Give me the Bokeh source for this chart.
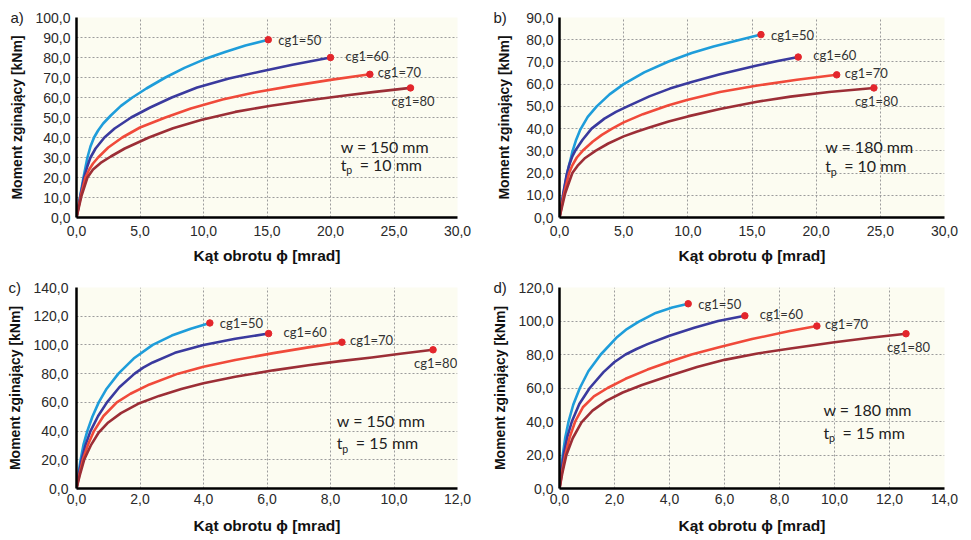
from bokeh.plotting import figure
from bokeh.layouts import gridplot
from bokeh.models import FixedTicker, CustomJSTickFormatter, Label, Range1d
from bokeh.embed import file_html
from bokeh.resources import INLINE
from bokeh.core.properties import value

# ---------------- data ----------------
SERIES = ["cg1=50", "cg1=60", "cg1=70", "cg1=80"]
PANEL_TAGS = ["a)", "b)", "c)", "d)"]
W_TEXT = ["w = 150 mm", "w = 180 mm", "w = 150 mm", "w = 180 mm"]
TP_TEXT = ["= 10 mm", "= 10 mm", "= 15 mm", "= 15 mm"]
X_LABEL = "Kąt obrotu ϕ [mrad]"
Y_LABEL = "Moment zginający [kNm]"

# panel a) w = 150 mm, tp = 10 mm
a_phi_50 = [0, 0.3, 0.55, 0.86, 1.1, 1.38, 1.7, 2.1, 2.7, 3.5, 4.4, 5.5, 7.0, 8.5, 10.1, 11.7, 13.3, 15.1]
a_m_50 = [0, 11, 20, 30, 35.5, 40, 43.5, 47, 51, 55.8, 60, 64.5, 70, 74.8, 79.2, 82.7, 86, 88.9]
a_phi_60 = [0, 0.3, 0.6, 0.85, 1.1, 1.5, 2.2, 3.0, 4.3, 5.8, 7.5, 9.5, 12, 14.5, 17, 20]
a_m_60 = [0, 10.5, 20, 25.5, 30, 34.5, 40, 44.5, 50, 55, 60, 65, 69.5, 73, 76.4, 80]
a_phi_70 = [0, 0.35, 0.7, 1.0, 1.3, 1.7, 2.5, 3.6, 5.0, 7.0, 9.0, 11.5, 14, 17, 20, 23.1]
a_m_70 = [0, 11, 20, 24, 27, 30, 35, 40, 45, 50, 54.5, 59, 62.5, 65.8, 68.8, 71.6]
a_phi_80 = [0, 0.4, 0.86, 1.3, 1.9, 2.7, 3.8, 5.7, 7.6, 9.8, 12.5, 15.3, 18, 21, 23.5, 26.3]
a_m_80 = [0, 11, 20, 24, 27.3, 30.5, 34.5, 40, 44.6, 48.8, 52.8, 55.9, 58.4, 60.9, 62.8, 64.8]
a_xticks = [0, 5, 10, 15, 20, 25, 30]
a_yticks = [0, 10, 20, 30, 40, 50, 60, 70, 80, 90, 100]

# panel b) w = 180 mm, tp = 10 mm
b_phi_50 = [0, 0.3, 0.6, 1.0, 1.3, 1.6, 2.2, 2.9, 3.9, 5.0, 6.6, 8.5, 10.3, 12, 14, 15.7]
b_m_50 = [0, 10.5, 20, 29.5, 35, 39.3, 45.3, 50, 55.4, 60, 65.3, 70.2, 74, 77, 79.9, 82.3]
b_phi_60 = [0, 0.3, 0.55, 0.75, 1.0, 1.25, 1.8, 2.5, 3.5, 4.4, 5.3, 7.0, 8.6, 10.3, 12.5, 15.3, 17, 18.6]
b_m_60 = [0, 11, 19, 23.5, 27.5, 30.3, 35, 40, 44.5, 47.5, 50, 54.5, 58, 61, 64.5, 68.3, 70.4, 72.2]
b_phi_70 = [0, 0.35, 0.75, 1.0, 1.35, 1.8, 2.6, 3.3, 4.1, 5.0, 6.5, 8.5, 10, 12.5, 15.3, 18.5, 21.6]
b_m_70 = [0, 10.5, 20, 23.5, 27, 30, 34.2, 37.2, 40, 42.8, 46.5, 50.5, 53, 56.5, 59.3, 62, 64.2]
b_phi_80 = [0, 0.45, 1.0, 1.4, 2.0, 2.8, 3.8, 5.0, 6.0, 7.0, 8.5, 10, 12.5, 15.3, 18, 21, 24.5]
b_m_80 = [0, 11, 20, 23.2, 26.8, 30, 33.3, 36.5, 38.6, 40.5, 43.2, 45.5, 48.8, 52, 54.4, 56.5, 58.3]
b_xticks = [0, 5, 10, 15, 20, 25, 30]
b_yticks = [0, 10, 20, 30, 40, 50, 60, 70, 80, 90]

# panel c) w = 150 mm, tp = 15 mm
c_phi_50 = [0, 0.06, 0.13, 0.22, 0.34, 0.5, 0.7, 0.95, 1.32, 1.8, 2.4, 3.0, 3.6, 4.2]
c_m_50 = [0, 10, 20, 30.5, 40, 50, 60, 69.5, 80, 90.5, 100, 106.5, 111.3, 115.3]
c_phi_60 = [0, 0.07, 0.16, 0.28, 0.44, 0.68, 0.96, 1.35, 1.83, 2.1, 2.4, 3.1, 4.0, 5.0, 6.05]
c_m_60 = [0, 9, 20, 30, 40, 50.5, 60, 70.5, 80, 84.2, 87.8, 94.5, 100, 104.3, 107.9]
c_phi_70 = [0, 0.08, 0.2, 0.36, 0.55, 0.85, 1.27, 1.7, 2.3, 3.2, 4.0, 5.0, 6.2, 7.3, 8.36]
c_m_70 = [0, 8.5, 20, 30.5, 40, 50.5, 60, 66, 72.5, 80, 84.8, 89.5, 94.3, 98.3, 101.9]
c_phi_80 = [0, 0.1, 0.24, 0.45, 0.7, 1.0, 1.4, 1.94, 2.6, 3.3, 4.0, 5.0, 6.2, 7.3, 8.3, 9.3, 10.2, 11.23]
c_m_80 = [0, 9, 20, 30, 39, 46, 52.5, 59, 64.5, 69.3, 73.3, 77.8, 82.3, 85.8, 88.7, 91.3, 93.8, 96.6]
c_xticks = [0, 2, 4, 6, 8, 10, 12]
c_yticks = [0, 20, 40, 60, 80, 100, 120, 140]

# panel d) w = 180 mm, tp = 15 mm
d_phi_50 = [0, 0.05, 0.12, 0.21, 0.33, 0.5, 0.74, 1.05, 1.5, 2.1, 2.45, 2.87, 3.5, 4.1, 4.68]
d_m_50 = [0, 9, 20, 30.5, 40, 50, 60, 70, 80, 90.5, 95.2, 99.5, 104.8, 108, 110.3]
d_phi_60 = [0, 0.06, 0.15, 0.28, 0.45, 0.72, 1.1, 1.6, 2.0, 2.4, 2.8, 3.2, 4.0, 4.9, 5.77, 6.74]
d_m_60 = [0, 8.5, 20, 30.5, 40, 50.5, 60, 69.5, 75.5, 80, 83.3, 86.2, 91.2, 96, 100, 103.1]
d_phi_70 = [0, 0.08, 0.21, 0.37, 0.57, 0.85, 1.25, 1.75, 2.4, 3.2, 4.0, 4.8, 5.8, 7.0, 8.37, 9.36]
d_m_70 = [0, 8.5, 20, 30.5, 40, 48.5, 55, 60, 65.5, 71, 75.7, 80, 84.3, 89.2, 94, 97]
d_phi_80 = [0, 0.1, 0.25, 0.48, 0.8, 1.2, 1.7, 2.3, 3.0, 4.0, 5.0, 6.0, 7.2, 8.4, 10, 11.3, 12.6]
d_m_80 = [0, 9, 20, 30, 39.5, 46.5, 52.3, 57.3, 61.8, 67.3, 72.5, 76.8, 80.6, 83.6, 87.3, 90, 92.4]
d_xticks = [0, 2, 4, 6, 8, 10, 12, 14]
d_yticks = [0, 20, 40, 60, 80, 100, 120]

# annotation anchor points (data coordinates): x, y of "w = ...", y of "tp = ..."
a_note = [20.8, 35.6, 26.7]
b_note = [20.7, 32.1, 23.2]
c_note = [8.2, 47.1, 31.9]
d_note = [9.6, 47.3, 33.7]

# ---------------- styles ----------------
COLORS = ["#1E9DDA", "#3A3A9E", "#F04A3A", "#9C2E36"]
DOT = "#E3262C"
BG = "#FCFCF1"
GRID = "#9C9C9C"
TICK_FONT = "Liberation Sans"
NOTE_FONT = "Lato"
LBL_DX = [10, 15, 8, -19]
LBL_DY = [0, -2, -2, 13]

GEOM = {
    "a": dict(width=485, height=270, left=74, right=28, top=15, bottom=53, ystand=6, xstand=8, xlstand=8, ylstand=7),
    "b": dict(width=486, height=270, left=74, right=27, top=15, bottom=53, ystand=6, xstand=8, xlstand=8, ylstand=11),
    "c": dict(width=485, height=270, left=76, right=21, top=16, bottom=52, ystand=8, xstand=5, xlstand=10, ylstand=7),
    "d": dict(width=486, height=270, left=74, right=17, top=16, bottom=51, ystand=6, xstand=5, xlstand=10, ylstand=7),
}

fmt_code = "return tick.toFixed(1).replace('.', ',');"


def make_panel(key, tag, curves, xticks, yticks, note, w_text, tp_text):
    g = GEOM[key]
    x0, x1, y0, y1 = xticks[0], xticks[-1], yticks[0], yticks[-1]
    p = figure(width=g["width"], height=g["height"], output_backend="svg",
               toolbar_location=None, tools="",
               x_range=Range1d(x0, x1), y_range=Range1d(y0, y1),
               min_border_left=g["left"], min_border_right=g["right"],
               min_border_top=g["top"], min_border_bottom=g["bottom"])
    p.background_fill_color = BG
    p.border_fill_color = "white"
    p.outline_line_color = None

    for ax, ticks, stand, lstand, lab in ((p.xaxis[0], xticks, g["xstand"], g["xlstand"], X_LABEL),
                                          (p.yaxis[0], yticks, g["ystand"], g["ylstand"], Y_LABEL)):
        ax.ticker = FixedTicker(ticks=ticks)
        ax.formatter = CustomJSTickFormatter(code=fmt_code)
        ax.major_tick_line_color = None
        ax.minor_tick_line_color = None
        ax.major_tick_out = 0
        ax.major_tick_in = 0
        ax.minor_tick_out = 0
        ax.minor_tick_in = 0
        ax.axis_line_color = "black"
        ax.axis_line_width = 2.5
        ax.major_label_text_font = TICK_FONT
        ax.major_label_text_font_size = "14px"
        ax.major_label_text_color = "#2a2a2a"
        ax.major_label_standoff = stand
        ax.axis_label = lab
        ax.axis_label_text_font = TICK_FONT
        ax.axis_label_text_font_style = "bold"
        ax.axis_label_text_color = "#111111"
        ax.axis_label_standoff = lstand
    p.xaxis.axis_label_text_font_size = "15.5px"
    p.yaxis.axis_label_text_font_size = "14px"

    for grid, ticks in ((p.xgrid[0], xticks), (p.ygrid[0], yticks)):
        grid.ticker = FixedTicker(ticks=ticks)
        grid.grid_line_color = GRID
        grid.grid_line_dash = "2 2"
        grid.grid_line_width = 1

    for i, (xs, ys) in enumerate(curves):
        p.line(xs, ys, line_color=COLORS[i], line_width=2.6, line_join="round")
        p.scatter([xs[-1]], [ys[-1]], size=6.5, fill_color=DOT, line_color=DOT)
        p.text([xs[-1]], [ys[-1]], text=[SERIES[i]], x_offset=LBL_DX[i], y_offset=LBL_DY[i],
               text_font=value(NOTE_FONT), text_font_size="13px", text_color="#333333",
               text_baseline="middle", text_align="left")

    fs = "16px"
    p.text([note[0]], [note[1]], text=[w_text], text_font=value(NOTE_FONT), text_font_size=fs,
           text_color="#222222", text_baseline="middle", text_align="left")
    p.text([note[0]], [note[2]], text=["t"], text_font=value(NOTE_FONT), text_font_size=fs,
           text_color="#222222", text_baseline="middle", text_align="left")
    p.text([note[0]], [note[2]], text=["p"], x_offset=5.5, y_offset=6, text_font=value(NOTE_FONT),
           text_font_size="10.5px", text_color="#222222", text_baseline="middle", text_align="left")
    p.text([note[0]], [note[2]], text=[tp_text], x_offset=19, text_font=value(NOTE_FONT),
           text_font_size=fs, text_color="#222222", text_baseline="middle", text_align="left")

    # panel tag in the top side panel, left of the frame's top-left corner
    p.add_layout(Label(x=-(g["left"] - 8), y=0, x_units="screen", y_units="screen", text=tag,
                       text_font=TICK_FONT, text_font_size="15px", text_color="#222222",
                       text_baseline="middle", text_align="left"), "above")
    return p


pa = make_panel("a", PANEL_TAGS[0],
                [(a_phi_50, a_m_50), (a_phi_60, a_m_60), (a_phi_70, a_m_70), (a_phi_80, a_m_80)],
                a_xticks, a_yticks, a_note, W_TEXT[0], TP_TEXT[0])
pb = make_panel("b", PANEL_TAGS[1],
                [(b_phi_50, b_m_50), (b_phi_60, b_m_60), (b_phi_70, b_m_70), (b_phi_80, b_m_80)],
                b_xticks, b_yticks, b_note, W_TEXT[1], TP_TEXT[1])
pc = make_panel("c", PANEL_TAGS[2],
                [(c_phi_50, c_m_50), (c_phi_60, c_m_60), (c_phi_70, c_m_70), (c_phi_80, c_m_80)],
                c_xticks, c_yticks, c_note, W_TEXT[2], TP_TEXT[2])
pd_ = make_panel("d", PANEL_TAGS[3],
                 [(d_phi_50, d_m_50), (d_phi_60, d_m_60), (d_phi_70, d_m_70), (d_phi_80, d_m_80)],
                 d_xticks, d_yticks, d_note, W_TEXT[3], TP_TEXT[3])

layout = gridplot([[pa, pb], [pc, pd_]], toolbar_location=None)

with open("out.html", "w") as f:
    f.write(file_html(layout, INLINE, title="Moment zginający"))
